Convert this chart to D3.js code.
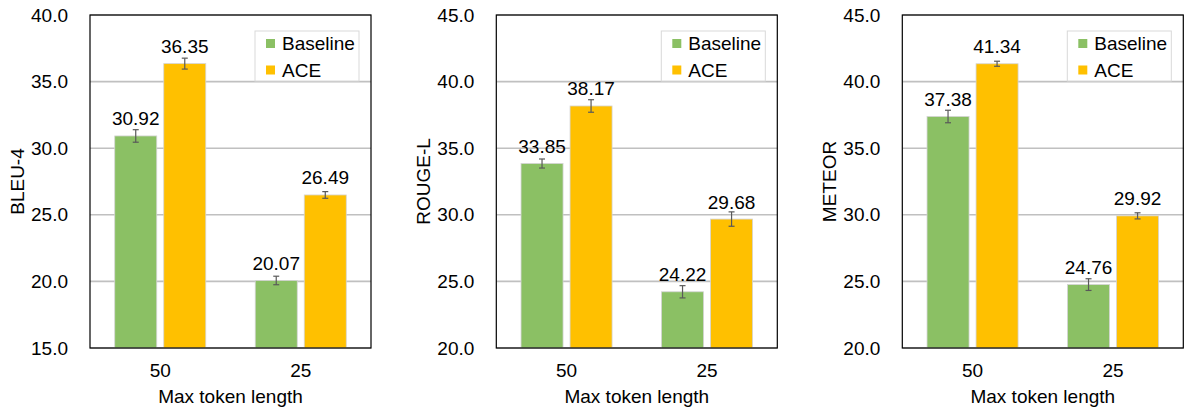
<!DOCTYPE html>
<html>
<head>
<meta charset="utf-8">
<script src="https://cdn.jsdelivr.net/npm/d3@7"></script>
<style>
  html, body { margin: 0; padding: 0; background: #fff; }
  svg { display: block; font-family: "Liberation Sans", Arial, sans-serif; }
</style>
</head>
<body>
<svg id="chart" width="1185" height="410"></svg>
<script>
// ---- data ----
const categories = ["50", "25"];
const seriesNames = ["Baseline", "ACE"];
const metrics = ["BLEU-4", "ROUGE-L", "METEOR"];

const bleuBaseline = [30.92, 20.07];
const bleuACE = [36.35, 26.49];
const bleuBaselineErr = [0.47, 0.32];
const bleuACEErr = [0.41, 0.25];

const rougeBaseline = [33.85, 24.22];
const rougeACE = [38.17, 29.68];
const rougeBaselineErr = [0.34, 0.46];
const rougeACEErr = [0.47, 0.54];

const meteorBaseline = [37.38, 24.76];
const meteorACE = [41.34, 29.92];
const meteorBaselineErr = [0.47, 0.44];
const meteorACEErr = [0.19, 0.23];

const bleuTicks = [15, 20, 25, 30, 35, 40];
const rougeTicks = [20, 25, 30, 35, 40, 45];
const meteorTicks = [20, 25, 30, 35, 40, 45];

const xTitle = "Max token length";

// ---- panels ----
const panels = [
  { title: metrics[0], ticks: bleuTicks, vals: [bleuBaseline, bleuACE], errs: [bleuBaselineErr, bleuACEErr], left: 90 },
  { title: metrics[1], ticks: rougeTicks, vals: [rougeBaseline, rougeACE], errs: [rougeBaselineErr, rougeACEErr], left: 496.3 },
  { title: metrics[2], ticks: meteorTicks, vals: [meteorBaseline, meteorACE], errs: [meteorBaselineErr, meteorACEErr], left: 902.3 }
];

const colors = ["#8BC064", "#FFC000"];
const plotW = 281, plotTop = 15, plotBottom = 348;
const fs = 19;
const svg = d3.select("#chart");

panels.forEach(p => {
  const g = svg.append("g").attr("transform", `translate(${p.left},0)`);
  const y = d3.scaleLinear().domain([p.ticks[0], p.ticks[p.ticks.length - 1]]).range([plotBottom, plotTop]);
  const x0 = d3.scaleBand().domain(categories).range([0, plotW]).paddingInner(0.352).paddingOuter(0.176);
  const x1 = d3.scaleBand().domain(seriesNames).range([0, x0.bandwidth()]).paddingInner(0.143);

  // gridlines
  g.append("g").selectAll("line").data(p.ticks).join("line")
    .attr("x1", 0).attr("x2", plotW)
    .attr("y1", d => y(d)).attr("y2", d => y(d))
    .attr("stroke", "#c0c0c0").attr("stroke-width", 1.6);

  // y tick labels
  g.append("g").selectAll("text").data(p.ticks).join("text")
    .attr("x", -22).attr("y", d => y(d))
    .attr("text-anchor", "end").attr("dominant-baseline", "central")
    .attr("font-size", fs).attr("fill", "#000")
    .text(d => d3.format(".1f")(d));

  // bars
  const rows = [];
  categories.forEach((c, i) => {
    seriesNames.forEach((s, j) => {
      rows.push({ c, s, j, v: p.vals[j][i], e: p.errs[j][i] });
    });
  });

  const bars = g.append("g");
  bars.selectAll("rect").data(rows).join("rect")
    .attr("x", d => x0(d.c) + x1(d.s))
    .attr("y", d => y(d.v))
    .attr("width", x1.bandwidth())
    .attr("height", d => plotBottom - y(d.v))
    .attr("fill", d => colors[d.j])
    .attr("stroke", "#d4d4d4").attr("stroke-width", 0.8);

  // error bars
  const eb = g.append("g").attr("stroke", "#595959").attr("stroke-width", 1.2);
  rows.forEach(d => {
    const cx = x0(d.c) + x1(d.s) + x1.bandwidth() / 2;
    eb.append("line").attr("x1", cx).attr("x2", cx).attr("y1", y(d.v + d.e)).attr("y2", y(d.v - d.e));
    eb.append("line").attr("x1", cx - 3).attr("x2", cx + 3).attr("y1", y(d.v + d.e)).attr("y2", y(d.v + d.e));
    eb.append("line").attr("x1", cx - 3).attr("x2", cx + 3).attr("y1", y(d.v - d.e)).attr("y2", y(d.v - d.e));
  });

  // data labels
  g.append("g").selectAll("text").data(rows).join("text")
    .attr("x", d => x0(d.c) + x1(d.s) + x1.bandwidth() / 2)
    .attr("y", d => y(d.v) - 10.5)
    .attr("text-anchor", "middle").attr("font-size", fs).attr("fill", "#000")
    .text(d => d3.format(".2f")(d.v));

  // frame
  g.append("rect").attr("x", 0).attr("y", plotTop).attr("width", plotW).attr("height", plotBottom - plotTop)
    .attr("fill", "none").attr("stroke", "#000").attr("stroke-width", 1.2);

  // x tick labels
  g.append("g").selectAll("text").data(categories).join("text")
    .attr("x", d => x0(d) + x0.bandwidth() / 2).attr("y", 377)
    .attr("text-anchor", "middle").attr("font-size", fs).attr("fill", "#000")
    .text(d => d);

  // x title
  g.append("text").attr("x", plotW / 2).attr("y", 403)
    .attr("text-anchor", "middle").attr("font-size", fs).attr("fill", "#000")
    .text(xTitle);

  // y title
  g.append("text").attr("transform", `translate(-66,${(plotTop + plotBottom) / 2}) rotate(-90)`)
    .attr("text-anchor", "middle").attr("font-size", fs).attr("fill", "#000")
    .text(p.title);

  // legend
  const lw = 104, lh = 50, lx = plotW - 12 - lw, ly = 31;
  const lg = g.append("g").attr("transform", `translate(${lx},${ly})`);
  lg.append("rect").attr("width", lw).attr("height", lh).attr("fill", "#fff")
    .attr("stroke", "#d9d9d9").attr("stroke-width", 1);
  seriesNames.forEach((s, j) => {
    const cy = 12.5 + j * 26.5;
    lg.append("rect").attr("x", 11).attr("y", cy - 4.5).attr("width", 9).attr("height", 9).attr("fill", colors[j]);
    lg.append("text").attr("x", 27).attr("y", cy).attr("dominant-baseline", "central")
      .attr("font-size", fs).attr("fill", "#000").text(s);
  });
});
</script>
</body>
</html>
